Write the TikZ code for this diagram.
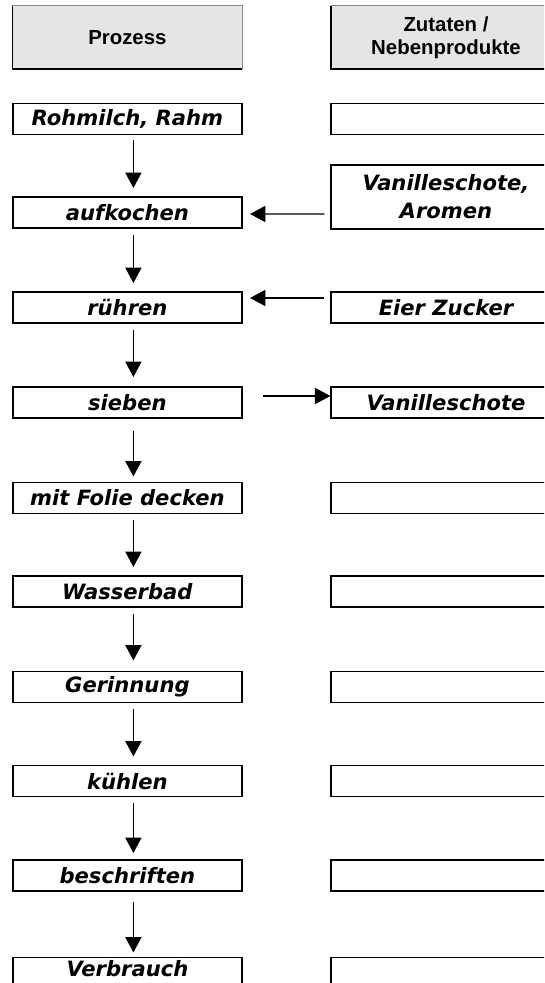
\documentclass[tikz,border=0pt]{standalone}
\usepackage{fontspec}
\setmainfont{DejaVu Sans}
\newfontfamily\headfont{Liberation Sans}
\usetikzlibrary{arrows.meta}

\tikzset{
	stepbox/.style={draw, line width=1.4pt, minimum width=5.73cm, minimum height=0.775cm, inner sep=0pt, align=center,
		font=\fontsize{15}{20}\selectfont\bfseries\itshape},
	headbox/.style={fill=black!10, minimum width=5.73cm, minimum height=1.575cm, inner sep=0pt, align=center,
		font=\headfont\fontsize{14.5}{16.5}\selectfont\bfseries},
	flow/.style={line width=1pt, -{Triangle[width=11.5pt,length=11pt]}},
}

\begin{document}
\begin{tikzpicture}[x=0.025cm, y=-0.025cm]
		%%%%% START %%%%%
		
		\useasboundingbox (0, 0) rectangle (544, 983);
		\clip (0, 0) rectangle (544, 983);
		
		% header
		\node[headbox] (hproc) at (127.4, 37.5) {Prozess};
		\node[headbox] (hzut) at (446, 37.5) {Zutaten /\\Nebenprodukte};
		\foreach \h in {hproc, hzut} {
			\draw[line width=0.5pt, color=black!45] (\h.north west) -- (\h.north east) -- (\h.south east);
			\draw[line width=1.4pt] (\h.north west) -- (\h.south west) -- (\h.south east);
		}
		
		% process column
		\node[stepbox] (rohmilch) at (127.4, 119) {Rohmilch, Rahm};
		\node[stepbox] (aufkochen) at (127.4, 212.5) {aufkochen};
		\node[stepbox] (ruehren) at (127.4, 307.5) {rühren};
		\node[stepbox] (sieben) at (127.4, 402.5) {sieben};
		\node[stepbox] (folie) at (127.4, 498) {mit Folie decken};
		\node[stepbox] (wasserbad) at (127.4, 591.5) {Wasserbad};
		\node[stepbox] (gerinnung) at (127.4, 687) {Gerinnung};
		\node[stepbox] (kuehlen) at (127.4, 781) {kühlen};
		\node[stepbox] (beschriften) at (127.4, 875.5) {beschriften};
		\node[stepbox] (verbrauch) at (127.4, 973) {};
		\node[font=\fontsize{15}{20}\selectfont\bfseries\itshape, anchor=north, inner sep=0pt] (tverbrauch) at ([yshift=-0.1cm]verbrauch.north) {Verbrauch};
		
		% ingredients column
		\node[stepbox] (zrohmilch) at (446, 119) {};
		\node[stepbox, minimum height=1.6cm] (zaufkochen) at (446, 197) {Vanilleschote,\\Aromen};
		\node[stepbox] (zruehren) at (446, 307.5) {Eier Zucker};
		\node[stepbox] (zsieben) at (446, 402.5) {Vanilleschote};
		\node[stepbox] (zfolie) at (446, 498) {};
		\node[stepbox] (zwasserbad) at (446, 591.5) {};
		\node[stepbox] (zgerinnung) at (446, 687) {};
		\node[stepbox] (zkuehlen) at (446, 781) {};
		\node[stepbox] (zbeschriften) at (446, 875.5) {};
		\node[stepbox] (zverbrauch) at (446, 973) {};
		
		% flow down
		\draw[flow] ([shift={(6, 5)}]rohmilch.south) -- ([shift={(6, -8)}]aufkochen.north);
		\draw[flow] ([shift={(6, 6)}]aufkochen.south) -- ([shift={(6, -8)}]ruehren.north);
		\draw[flow] ([shift={(6, 6)}]ruehren.south) -- ([shift={(6, -9)}]sieben.north);
		\draw[flow] ([shift={(6, 12)}]sieben.south) -- ([shift={(6, -5)}]folie.north);
		\draw[flow] ([shift={(6, 6)}]folie.south) -- ([shift={(6, -8)}]wasserbad.north);
		\draw[flow] ([shift={(6, 6)}]wasserbad.south) -- ([shift={(6, -10)}]gerinnung.north);
		\draw[flow] ([shift={(6, 6)}]gerinnung.south) -- ([shift={(6, -8)}]kuehlen.north);
		\draw[flow] ([shift={(6, 6)}]kuehlen.south) -- ([shift={(6, -6)}]beschriften.north);
		\draw[flow] ([shift={(6, 10)}]beschriften.south) -- ([shift={(6, -4)}]verbrauch.north);
		
		% side flows
		\draw[flow] ([shift={(-6, 17)}]zaufkochen.west) -- ([shift={(7, 1.5)}]aufkochen.east);
		\draw[flow] ([shift={(-6, -9.5)}]zruehren.west) -- ([shift={(7, -9.5)}]ruehren.east);
		\draw[flow] ([shift={(20, -6.5)}]sieben.east) -- ([shift={(0, -6.5)}]zsieben.west);
		
		%%%%% END %%%%%
\end{tikzpicture}
\end{document}
